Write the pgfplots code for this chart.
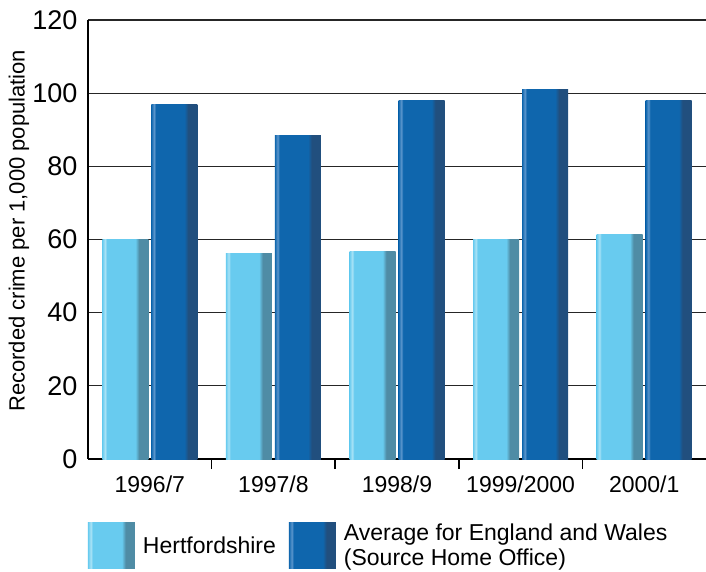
\documentclass[border=0pt]{standalone}
\usepackage{pgfplots}
\pgfplotsset{compat=1.18}
\usepackage{fontspec}
\setmainfont{Liberation Sans}
\usetikzlibrary{calc}
\definecolor{hmain}{HTML}{68CBEF}
\definecolor{hlight}{HTML}{A8E2F6}
\definecolor{hdark}{HTML}{4F8CA5}
\definecolor{emain}{HTML}{0F66AD}
\definecolor{elight}{HTML}{5A95CC}
\definecolor{edark}{HTML}{214F7E}
\pgfdeclarehorizontalshading{hshade}{100bp}{color(0bp)=(hmain); color(25bp)=(hmain); color(28bp)=(hlight); color(30bp)=(hmain); color(61bp)=(hmain); color(65bp)=(hdark); color(75bp)=(hdark); color(100bp)=(hdark)}
\pgfdeclarehorizontalshading{eshade}{100bp}{color(0bp)=(emain); color(25bp)=(emain); color(28bp)=(elight); color(30bp)=(emain); color(61bp)=(emain); color(65bp)=(edark); color(75bp)=(edark); color(100bp)=(edark)}
\pgfplotsset{
  hbar/.style={ybar, bar width=46pt, bar shift=-24.5pt, draw=none, shade, shading=hshade,
    legend image code/.code={\path[shade, shading=hshade] (0pt,-23pt) rectangle (47pt,23pt);}},
  ebar/.style={ybar, bar width=46pt, bar shift=24.5pt, draw=none, shade, shading=eshade,
    legend image code/.code={\path[shade, shading=eshade] (0pt,-23pt) rectangle (47pt,23pt);}},
}
\begin{document}
\begin{tikzpicture}
\begin{axis}[name=ax,
  scale only axis, width=618pt, height=439pt,
  xmin=-0.5, xmax=4.5, ymin=0, ymax=120,
  ytick={0,20,...,120},
  xtick={0,1,2,3,4},
  xticklabels={1996/7,1997/8,1998/9,1999/2000,2000/1},
  major x tick style={draw=none},
  extra x ticks={0.5,1.5,2.5,3.5},
  extra x tick labels={},
  extra x tick style={major tick length=10pt, tick align=outside, grid=none,
     major x tick style={draw=black, line width=1.6pt}},
  axis lines=left,
  axis line style={line width=1.6pt, -},
  ymajorgrids,
  grid style={line width=1.2pt, black!85},
  major y tick style={draw=none},
  xticklabel style={font=\fontsize{23}{26}\selectfont, yshift=-11pt},
  yticklabel style={font=\fontsize{27}{29}\selectfont, xshift=-5pt},
  /pgf/number format/assume math mode=true,
  ylabel={Recorded crime per 1,000 population},
  every axis y label/.style={at={(axis description cs:0,0.52)}, xshift=-69pt, rotate=90, anchor=center, font=\fontsize{22}{24}\selectfont},
  legend style={at={(0,0)}, anchor=north west, yshift=-63pt, draw=none, fill=none,
     inner sep=0pt, outer sep=0pt, legend columns=2,
     /tikz/every odd column/.append style={column sep=6pt},
     /tikz/every even column/.append style={column sep=11pt},
     cells={anchor=west, align=left},
     font=\fontsize{23}{25}\selectfont},
]
\addplot[hbar] coordinates {(0,60)};
\addlegendentry{Hertfordshire}
\addplot[ebar] coordinates {(0,97)};
\addlegendentry{Average for England and Wales\\(Source Home Office)}
\addplot[hbar, forget plot] coordinates {(1,56.2)};
\addplot[hbar, forget plot] coordinates {(2,56.8)};
\addplot[hbar, forget plot] coordinates {(3,60)};
\addplot[hbar, forget plot] coordinates {(4,61.5)};
\addplot[ebar, forget plot] coordinates {(1,88.3)};
\addplot[ebar, forget plot] coordinates {(2,97.9)};
\addplot[ebar, forget plot] coordinates {(3,100.9)};
\addplot[ebar, forget plot] coordinates {(4,97.9)};
\end{axis}
\pgfresetboundingbox
\path[use as bounding box] ($(ax.south west)+(-88pt,-112pt)$) rectangle ($(ax.north east)+(0pt,20pt)$);
\end{tikzpicture}
\end{document}
